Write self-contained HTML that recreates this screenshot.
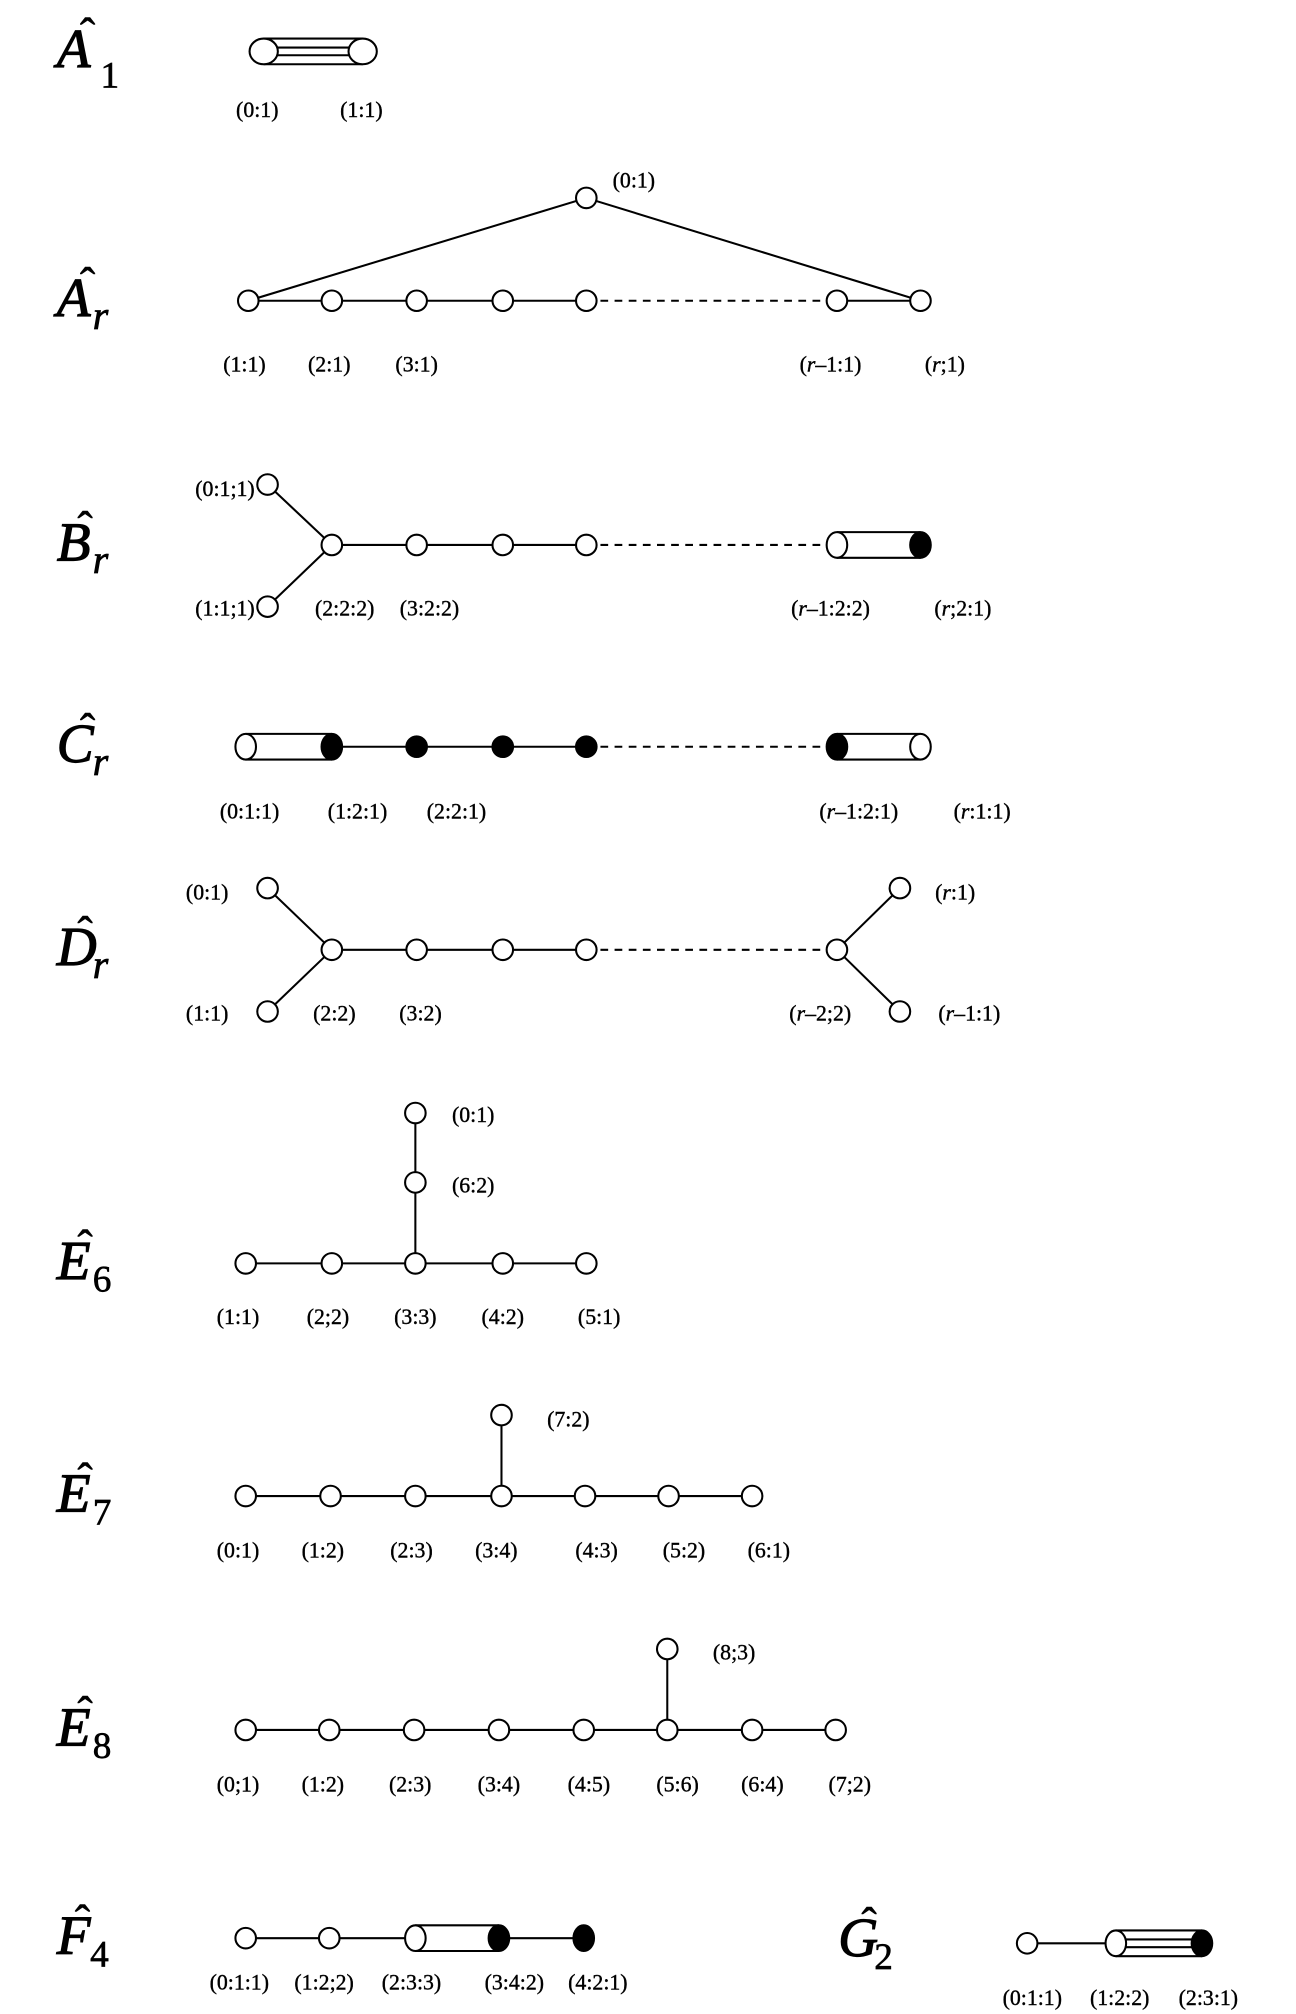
<!DOCTYPE html>
<html><head><meta charset="utf-8"><style>
html,body{margin:0;padding:0;background:#fff}
svg{display:block}
.l{font-family:"Liberation Serif",serif;font-size:17px;fill:#000;stroke:#000;stroke-width:0.3}
.t{font-family:"Liberation Serif",serif;font-style:italic;font-size:43px;fill:#000;stroke:#000;stroke-width:0.9}
.s{font-family:"Liberation Serif",serif;font-size:29px;fill:#000;stroke:#000;stroke-width:0.5}
.si{font-family:"Liberation Serif",serif;font-style:italic;font-size:31px;fill:#000;stroke:#000;stroke-width:0.6}
.h{font-family:"Liberation Serif",serif;font-size:36px;fill:#000;stroke:#000;stroke-width:0.4}
</style></head><body>
<svg width="1296" height="2014" viewBox="0 0 1008 1567" xmlns="http://www.w3.org/2000/svg">
<defs>
<style>circle,ellipse{stroke:#000;stroke-width:1.6}line{stroke:#000;stroke-width:1.6}.d{stroke-dasharray:6 5}</style>
</defs>
<g id="titles">
<text class="t" x="44" y="52">A</text><text class="h" x="62" y="39">ˆ</text><text class="s" x="78" y="68">1</text>
<text class="t" x="44" y="246">A</text><text class="h" x="62" y="233">ˆ</text><text class="si" x="72" y="256">r</text>
<text class="t" x="44" y="436">B</text><text class="h" x="60" y="423">ˆ</text><text class="si" x="72" y="446">r</text>
<text class="t" x="44" y="593">C</text><text class="h" x="62" y="580">ˆ</text><text class="si" x="72" y="603">r</text>
<text class="t" x="44" y="751">D</text><text class="h" x="60" y="738">ˆ</text><text class="si" x="72" y="761">r</text>
<text class="t" x="44" y="995">E</text><text class="h" x="60" y="982">ˆ</text><text class="s" x="72" y="1005">6</text>
<text class="t" x="44" y="1176">E</text><text class="h" x="60" y="1163">ˆ</text><text class="s" x="72" y="1186">7</text>
<text class="t" x="44" y="1358">E</text><text class="h" x="60" y="1345">ˆ</text><text class="s" x="72" y="1368">8</text>
<text class="t" x="44" y="1520">F</text><text class="h" x="58" y="1507">ˆ</text><text class="s" x="70" y="1530">4</text>
<text class="t" x="652" y="1522">G</text><text class="h" x="670" y="1509">ˆ</text><text class="s" x="680" y="1532">2</text>
</g>

<!-- A1 -->
<line x1="205" y1="30" x2="282" y2="30"/><line x1="205" y1="50" x2="282" y2="50"/>
<line x1="212" y1="37" x2="275" y2="37"/><line x1="212" y1="43" x2="275" y2="43"/>
<ellipse cx="205" cy="40" rx="11" ry="10" fill="#fff"/><ellipse cx="282" cy="40" rx="11" ry="10" fill="#fff"/>
<text class="l" x="200" y="91" text-anchor="middle">(0:1)</text><text class="l" x="281" y="91" text-anchor="middle">(1:1)</text>

<!-- Ar -->
<line x1="193" y1="234" x2="456" y2="154"/><line x1="456" y1="154" x2="716" y2="234"/>
<line x1="193" y1="234" x2="456" y2="234"/><line class="d" x1="456" y1="234" x2="651" y2="234"/><line x1="651" y1="234" x2="716" y2="234"/>
<g fill="#fff"><circle cx="456" cy="154" r="8"/><circle cx="193" cy="234" r="8"/><circle cx="258" cy="234" r="8"/><circle cx="324" cy="234" r="8"/><circle cx="391" cy="234" r="8"/><circle cx="456" cy="234" r="8"/><circle cx="651" cy="234" r="8"/><circle cx="716" cy="234" r="8"/></g>
<text class="l" x="493" y="146" text-anchor="middle">(0:1)</text>
<g class="l" text-anchor="middle"><text x="190" y="289">(1:1)</text><text x="256" y="289">(2:1)</text><text x="324" y="289">(3:1)</text><text x="646" y="289">(<tspan font-style="italic">r</tspan>–1:1)</text><text x="735" y="289">(<tspan font-style="italic">r</tspan>;1)</text></g>

<!-- Br -->
<line x1="208" y1="377" x2="258" y2="424"/><line x1="208" y1="472" x2="258" y2="424"/>
<line x1="258" y1="424" x2="456" y2="424"/><line class="d" x1="456" y1="424" x2="651" y2="424"/>
<line x1="651" y1="414" x2="716" y2="414"/><line x1="651" y1="434" x2="716" y2="434"/>
<g fill="#fff"><circle cx="208" cy="377" r="8"/><circle cx="208" cy="472" r="8"/><circle cx="258" cy="424" r="8"/><circle cx="324" cy="424" r="8"/><circle cx="391" cy="424" r="8"/><circle cx="456" cy="424" r="8"/><ellipse cx="651" cy="424" rx="8" ry="10"/></g>
<ellipse cx="716" cy="424" rx="8" ry="10" fill="#000"/>
<g class="l"><text x="198" y="386" text-anchor="end">(0:1;1)</text><text x="198" y="479" text-anchor="end">(1:1;1)</text></g>
<g class="l" text-anchor="middle"><text x="268" y="479">(2:2:2)</text><text x="334" y="479">(3:2:2)</text><text x="646" y="479">(<tspan font-style="italic">r</tspan>–1:2:2)</text><text x="749" y="479">(<tspan font-style="italic">r</tspan>;2:1)</text></g>

<!-- Cr -->
<line x1="191" y1="571" x2="258" y2="571"/><line x1="191" y1="591" x2="258" y2="591"/>
<line x1="258" y1="581" x2="456" y2="581"/><line class="d" x1="456" y1="581" x2="651" y2="581"/>
<line x1="651" y1="571" x2="716" y2="571"/><line x1="651" y1="591" x2="716" y2="591"/>
<ellipse cx="191" cy="581" rx="8" ry="10" fill="#fff"/><ellipse cx="258" cy="581" rx="8" ry="10" fill="#000"/>
<g fill="#000"><circle cx="324" cy="581" r="8"/><circle cx="391" cy="581" r="8"/><circle cx="456" cy="581" r="8"/></g>
<ellipse cx="651" cy="581" rx="8" ry="10" fill="#000"/><ellipse cx="716" cy="581" rx="8" ry="10" fill="#fff"/>
<g class="l" text-anchor="middle"><text x="194" y="637">(0:1:1)</text><text x="278" y="637">(1:2:1)</text><text x="355" y="637">(2:2:1)</text><text x="668" y="637">(<tspan font-style="italic">r</tspan>–1:2:1)</text><text x="764" y="637">(<tspan font-style="italic">r</tspan>:1:1)</text></g>

<!-- Dr -->
<line x1="208" y1="691" x2="258" y2="739"/><line x1="208" y1="787" x2="258" y2="739"/>
<line x1="258" y1="739" x2="456" y2="739"/><line class="d" x1="456" y1="739" x2="651" y2="739"/>
<line x1="651" y1="739" x2="700" y2="691"/><line x1="651" y1="739" x2="700" y2="787"/>
<g fill="#fff"><circle cx="208" cy="691" r="8"/><circle cx="208" cy="787" r="8"/><circle cx="258" cy="739" r="8"/><circle cx="324" cy="739" r="8"/><circle cx="391" cy="739" r="8"/><circle cx="456" cy="739" r="8"/><circle cx="651" cy="739" r="8"/><circle cx="700" cy="691" r="8"/><circle cx="700" cy="787" r="8"/></g>
<g class="l" text-anchor="middle"><text x="161" y="700">(0:1)</text><text x="161" y="794">(1:1)</text><text x="260" y="794">(2:2)</text><text x="327" y="794">(3:2)</text><text x="638" y="794">(<tspan font-style="italic">r</tspan>–2;2)</text><text x="743" y="700">(<tspan font-style="italic">r</tspan>:1)</text><text x="754" y="794">(<tspan font-style="italic">r</tspan>–1:1)</text></g>

<!-- E6 -->
<line x1="323" y1="866" x2="323" y2="983"/><line x1="191" y1="983" x2="456" y2="983"/>
<g fill="#fff"><circle cx="323" cy="866" r="8"/><circle cx="323" cy="920" r="8"/><circle cx="191" cy="983" r="8"/><circle cx="258" cy="983" r="8"/><circle cx="323" cy="983" r="8"/><circle cx="391" cy="983" r="8"/><circle cx="456" cy="983" r="8"/></g>
<g class="l" text-anchor="middle"><text x="368" y="873">(0:1)</text><text x="368" y="928">(6:2)</text><text x="185" y="1030">(1:1)</text><text x="255" y="1030">(2;2)</text><text x="323" y="1030">(3:3)</text><text x="391" y="1030">(4:2)</text><text x="466" y="1030">(5:1)</text></g>

<!-- E7 -->
<line x1="390" y1="1101" x2="390" y2="1164"/><line x1="191" y1="1164" x2="585" y2="1164"/>
<g fill="#fff"><circle cx="390" cy="1101" r="8"/><circle cx="191" cy="1164" r="8"/><circle cx="257" cy="1164" r="8"/><circle cx="323" cy="1164" r="8"/><circle cx="390" cy="1164" r="8"/><circle cx="455" cy="1164" r="8"/><circle cx="520" cy="1164" r="8"/><circle cx="585" cy="1164" r="8"/></g>
<g class="l" text-anchor="middle"><text x="442" y="1110">(7:2)</text><text x="185" y="1212">(0:1)</text><text x="251" y="1212">(1:2)</text><text x="320" y="1212">(2:3)</text><text x="386" y="1212">(3:4)</text><text x="464" y="1212">(4:3)</text><text x="532" y="1212">(5:2)</text><text x="598" y="1212">(6:1)</text></g>

<!-- E8 -->
<line x1="519" y1="1283" x2="519" y2="1346"/><line x1="191" y1="1346" x2="650" y2="1346"/>
<g fill="#fff"><circle cx="519" cy="1283" r="8"/><circle cx="191" cy="1346" r="8"/><circle cx="256" cy="1346" r="8"/><circle cx="322" cy="1346" r="8"/><circle cx="388" cy="1346" r="8"/><circle cx="454" cy="1346" r="8"/><circle cx="519" cy="1346" r="8"/><circle cx="585" cy="1346" r="8"/><circle cx="650" cy="1346" r="8"/></g>
<g class="l" text-anchor="middle"><text x="571" y="1291">(8;3)</text><text x="185" y="1394">(0;1)</text><text x="251" y="1394">(1:2)</text><text x="319" y="1394">(2:3)</text><text x="388" y="1394">(3:4)</text><text x="458" y="1394">(4:5)</text><text x="527" y="1394">(5:6)</text><text x="593" y="1394">(6:4)</text><text x="661" y="1394">(7;2)</text></g>

<!-- F4 -->
<line x1="191" y1="1508" x2="323" y2="1508"/><line x1="388" y1="1508" x2="454" y2="1508"/>
<line x1="323" y1="1498" x2="388" y2="1498"/><line x1="323" y1="1518" x2="388" y2="1518"/>
<g fill="#fff"><circle cx="191" cy="1508" r="8"/><circle cx="256" cy="1508" r="8"/><ellipse cx="323" cy="1508" rx="8" ry="10"/></g>
<ellipse cx="388" cy="1508" rx="8" ry="10" fill="#000"/><ellipse cx="454" cy="1508" rx="8" ry="10" fill="#000"/>
<g class="l" text-anchor="middle"><text x="186" y="1548">(0:1:1)</text><text x="252" y="1548">(1:2;2)</text><text x="320" y="1548">(2:3:3)</text><text x="400" y="1548">(3:4:2)</text><text x="465" y="1548">(4:2:1)</text></g>

<!-- G2 -->
<line x1="799" y1="1512" x2="868" y2="1512"/>
<line x1="868" y1="1502" x2="935" y2="1502"/><line x1="868" y1="1522" x2="935" y2="1522"/>
<line x1="872" y1="1509" x2="930" y2="1509"/><line x1="872" y1="1515" x2="930" y2="1515"/>
<circle cx="799" cy="1512" r="8" fill="#fff"/><ellipse cx="868" cy="1512" rx="8" ry="10" fill="#fff"/><ellipse cx="935" cy="1512" rx="8" ry="10" fill="#000"/>
<g class="l" text-anchor="middle"><text x="803" y="1560">(0:1:1)</text><text x="871" y="1560">(1:2:2)</text><text x="940" y="1560">(2:3:1)</text></g>
</svg>
</body></html>
